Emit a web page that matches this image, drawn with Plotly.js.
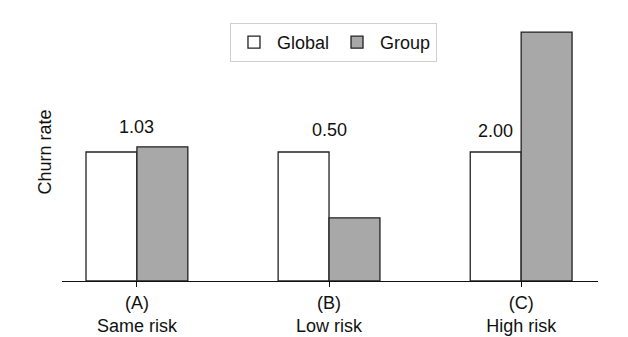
<!DOCTYPE html>
<html>
<head>
<meta charset="utf-8">
<script src="https://cdn.plot.ly/plotly-3.0.1.min.js"></script>
<style>html,body{margin:0;padding:0;background:#fff;}#chart{width:628px;height:337px;}</style>
</head>
<body>
<div id="chart"></div>
<script>
const categories = ["(A)<br>Same risk", "(B)<br>Low risk", "(C)<br>High risk"];
const globalValues = [1.0, 1.0, 1.0];
const groupValues = [1.04, 0.49, 1.93];
const ratioLabels = ["1.03", "0.50", "2.00"];
const labelHeights = [1.19, 1.17, 1.16];

const FONT = "'Liberation Sans', Arial, sans-serif";
const FS = 18;

const traces = [
  {type: "bar", name: "Global", x: categories, y: globalValues,
   marker: {color: "#ffffff", line: {color: "#222222", width: 1.3}}, hoverinfo: "skip"},
  {type: "bar", name: "Group", x: categories, y: groupValues,
   marker: {color: "#a8a8a8", line: {color: "#222222", width: 1.3}}, hoverinfo: "skip"}
];

const annotations = ratioLabels.map((t, i) => ({
  x: categories[i], y: labelHeights[i], xref: "x", yref: "y",
  text: t, showarrow: false, xshift: i === 2 ? -26 : 0,
  font: {family: FONT, size: FS, color: "#111"}
}));

const layout = {
  width: 628, height: 337,
  margin: {l: 62, r: 30, t: 23, b: 56},
  paper_bgcolor: "#fff", plot_bgcolor: "#fff",
  font: {family: FONT, size: FS, color: "#111"},
  barmode: "group", bargap: 0.47, bargroupgap: 0,
  showlegend: true,
  legend: {orientation: "h", x: 0.5065, xanchor: "center", y: 1.0, yanchor: "top",
           bordercolor: "#d0d0d0", borderwidth: 1, bgcolor: "#fff", itemwidth: 36,
           font: {family: FONT, size: FS, color: "#111"}, traceorder: "normal"},
  xaxis: {range: [-0.39, 2.40], showline: true, linecolor: "#111", linewidth: 1.3,
          ticks: "outside", ticklen: 5, tickcolor: "#111", tickwidth: 1,
          showgrid: false, zeroline: false, fixedrange: true,
          tickfont: {family: FONT, size: FS, color: "#111"}},
  yaxis: {range: [0, 2.0], showline: false, showticklabels: false, ticks: "",
          showgrid: false, zeroline: false, fixedrange: true,
          title: {text: "Churn rate", standoff: 4, font: {family: FONT, size: FS, color: "#111"}}},
  annotations: annotations
};

Plotly.newPlot("chart", traces, layout, {displayModeBar: false, staticPlot: true});
</script>
</body>
</html>
